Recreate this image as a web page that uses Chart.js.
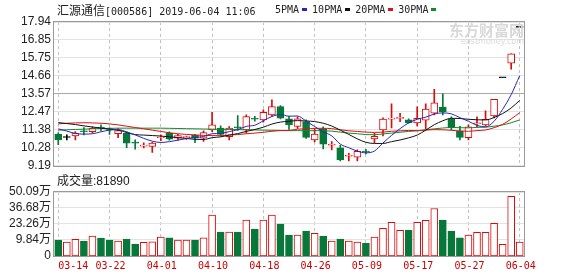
<!DOCTYPE html>
<html>
<head>
<meta charset="utf-8">
<script src="https://cdn.jsdelivr.net/npm/chart.js@4.4.1/dist/chart.umd.min.js"></script>
<style>
body { margin: 0; background: #fff; }
#wrap { position: relative; width: 578px; height: 276px; overflow: hidden; }
canvas { position: absolute; left: 0; }
.t { position: absolute; white-space: nowrap; color: #222; line-height: 12px; }
.cn { font-family: "Noto Sans CJK SC"; font-size: 12px; }
.mono { font-family: "DejaVu Sans Mono"; font-size: 10px; }
.chip { display: inline-block; width: 5px; height: 3px; margin: 0 5px 1px 3px; vertical-align: middle; }
.wm { position: absolute; right: 54px; color: #d9d9d9; white-space: nowrap; text-align: right; }
</style>
</head>
<body>
<div id="wrap">
  <canvas id="price" width="578" height="176" style="top:0"></canvas>
  <canvas id="volume" width="578" height="100" style="top:176px"></canvas>
  <div class="t" style="left:57px;top:4px"><span class="cn">汇源通信</span><span class="mono">[000586] 2019-06-04 11:06</span></div>
  <div class="t mono" id="legend" style="left:275px;top:4px"></div>
  <div class="wm" style="top:22px;font-family:'Noto Sans CJK SC';font-weight:bold;font-size:15px;line-height:16px">东方财富网</div>
  <div class="wm" style="top:37px;font-family:'DejaVu Sans';font-size:8px;line-height:9px">eastmoney.com</div>
  <div class="t" style="left:57px;top:174px"><span class="cn">成交量</span><span style="font-family:'Liberation Sans';font-size:12px">:81890</span></div>
</div>
<script>
// trading days shown
const DATES = ['03-14','03-15','03-18','03-19','03-20','03-21','03-22','03-25','03-26','03-27',
  '03-28','03-29','04-01','04-02','04-03','04-04','04-08','04-09','04-10','04-11',
  '04-12','04-15','04-16','04-17','04-18','04-19','04-22','04-23','04-24','04-25',
  '04-26','04-29','04-30','05-06','05-07','05-08','05-09','05-10','05-13','05-14',
  '05-15','05-16','05-17','05-20','05-21','05-22','05-23','05-24','05-27','05-28',
  '05-29','05-30','05-31','06-03','06-04'];
const TICK_DATES = ['03-14','03-22','04-01','04-10','04-18','04-26','05-09','05-17','05-27','06-04'];

const OPEN = [11.12,10.91,11.01,11.30,11.27,11.50,11.43,11.15,11.18,10.60,
  10.39,10.37,10.88,11.18,10.87,10.90,11.05,10.87,11.38,11.48,
  10.97,11.55,11.38,12.05,11.98,12.29,12.79,12.05,11.59,11.88,
  10.77,11.44,10.44,10.28,9.77,9.71,10.06,10.83,11.38,12.03,
  12.08,11.99,11.80,11.96,12.39,12.77,12.03,11.30,10.90,11.75,
  11.68,12.23,14.55,15.43,17.61];
const HIGH = [11.20,11.07,11.27,11.52,11.56,11.68,11.50,11.45,11.25,10.77,
  10.59,10.62,11.07,11.25,11.10,11.00,11.10,11.32,12.45,11.62,
  11.58,12.25,12.29,12.20,12.60,13.20,12.85,12.20,12.17,11.98,
  11.45,11.56,10.67,10.44,9.95,10.16,10.19,11.17,12.11,12.96,
  12.39,12.05,12.78,12.96,13.84,13.57,12.17,11.59,11.68,12.17,
  12.53,13.23,14.55,16.01,17.61];
const LOW = [10.47,10.77,10.77,11.07,11.19,11.32,11.10,10.90,10.30,10.20,
  10.28,10.00,10.72,10.75,10.75,10.80,10.60,10.67,11.27,11.00,
  10.77,11.35,11.18,11.90,11.85,12.19,12.05,11.40,11.47,10.86,
  10.65,10.22,10.16,9.49,9.49,9.49,9.92,10.59,11.01,11.50,
  11.88,11.78,11.62,11.44,12.29,12.29,11.38,10.77,10.77,11.54,
  11.62,12.11,14.55,15.07,17.61];
const CLOSE = [10.77,10.91,11.18,11.26,11.47,11.48,11.40,11.33,10.57,10.57,
  10.42,10.57,10.91,10.81,11.03,10.93,10.87,11.21,11.68,11.10,
  11.48,11.50,12.19,12.02,12.45,12.79,12.09,11.70,12.05,10.92,
  11.12,10.50,10.47,9.55,9.80,10.07,10.03,10.98,12.03,12.07,
  12.12,11.82,12.08,12.64,13.02,12.49,11.51,10.92,11.56,11.78,
  12.02,13.23,14.55,16.01,17.61];

// moving averages
const MA5 = [11.44,11.30,11.16,11.12,11.14,11.26,11.36,11.39,11.25,11.07,
  10.86,10.69,10.61,10.66,10.75,10.85,10.91,10.97,11.14,11.16,
  11.27,11.39,11.59,11.66,11.93,12.19,12.31,12.21,12.22,11.91,
  11.58,11.26,11.01,10.51,10.29,10.08,9.98,10.09,10.58,11.04,
  11.45,11.80,12.02,12.15,12.34,12.41,12.35,12.12,11.90,11.65,
  11.56,11.90,12.63,13.52,14.68];
const MA10 = [11.82,11.76,11.70,11.62,11.55,11.48,11.42,11.36,11.22,11.09,
  11.06,11.03,11.00,10.95,10.91,10.85,10.80,10.79,10.90,10.95,
  11.06,11.15,11.28,11.40,11.54,11.73,11.85,11.90,11.94,11.92,
  11.88,11.78,11.61,11.36,11.10,10.83,10.62,10.55,10.55,10.66,
  10.76,10.89,11.06,11.36,11.69,11.93,12.08,12.07,12.02,11.99,
  11.98,12.13,12.37,12.71,13.17];
const MA20 = [11.74,11.78,11.80,11.81,11.80,11.78,11.74,11.68,11.60,11.52,
  11.44,11.36,11.28,11.20,11.14,11.10,11.07,11.04,11.03,11.02,
  11.06,11.09,11.14,11.18,11.23,11.29,11.33,11.34,11.42,11.44,
  11.47,11.47,11.45,11.38,11.32,11.28,11.24,11.22,11.24,11.29,
  11.32,11.34,11.33,11.36,11.39,11.38,11.35,11.31,11.29,11.33,
  11.37,11.51,11.71,12.04,12.43];
const MA30 = [11.36,11.38,11.40,11.42,11.44,11.46,11.47,11.48,11.48,11.48,
  11.48,11.48,11.48,11.47,11.46,11.45,11.44,11.43,11.42,11.41,
  11.40,11.39,11.38,11.37,11.36,11.35,11.34,11.33,11.33,11.32,
  11.33,11.32,11.30,11.24,11.18,11.14,11.09,11.08,11.13,11.18,
  11.23,11.28,11.32,11.38,11.44,11.49,11.52,11.51,11.50,11.53,
  11.54,11.60,11.68,11.81,11.98];

// volume in 万 shares
const VOLUME = [9.79,8.12,10.40,8.96,13.13,11.46,9.79,8.96,10.63,6.45,
  7.87,8.37,12.29,11.71,9.79,9.79,9.79,11.71,30.65,16.47,
  16.47,16.47,26.48,18.97,26.48,30.65,23.14,13.96,13.96,17.30,
  15.38,13.13,8.96,10.63,8.96,8.12,7.04,12.29,19.55,24.56,
  17.88,17.88,24.56,26.23,36.24,26.48,17.30,11.71,13.96,16.21,
  16.21,23.72,6.20,46.50,8.19];

const PRICE_TICKS = [9.19,10.28,11.38,12.47,13.57,14.66,15.75,16.85,17.94];
const MID_PRICE = 13.57;
const VOL_TICKS = [-3.58,9.84,23.26,36.68,50.09];
const VOL_TICK_LABELS = ['0','9.84万','23.26万','36.68万','50.09万'];

const MA_NAMES = ['5PMA','10PMA','20PMA','30PMA'];
const MA_COLORS = ['#2626b8','#111111','#dd1111','#138a2a'];

const RED = '#dd0a0a';
const GREEN = '#08773a';

document.getElementById('legend').innerHTML = MA_NAMES.map((n, i) =>
  `${n}<span class="chip" style="background:${MA_COLORS[i]}"></span>`).join('');

function lineColor(i) {
  if (CLOSE[i] > OPEN[i]) return RED;
  if (CLOSE[i] < OPEN[i]) return GREEN;
  return '#000';
}
function bodyFill(i) {
  if (CLOSE[i] > OPEN[i]) return '#fff';
  if (CLOSE[i] < OPEN[i]) return GREEN;
  return '#000';
}

// draws the grey frame round the plot area
const frame = {
  id: 'frame',
  afterDraw(chart) {
    const a = chart.chartArea, ctx = chart.ctx;
    ctx.save();
    ctx.strokeStyle = '#9a9a9a';
    ctx.lineWidth = 1;
    ctx.strokeRect(Math.round(a.left) - 0.5, Math.round(a.top) - 0.5,
      Math.round(a.right - a.left) + 1, Math.round(a.bottom - a.top) + 1);
    ctx.restore();
  }
};

// date labels under the volume panel, first one kept inside the frame
const dateLabels = {
  id: 'dateLabels',
  afterDraw(chart) {
    const xs = chart.scales.x, ctx = chart.ctx;
    ctx.save();
    ctx.font = '10px "DejaVu Sans Mono"';
    ctx.fillStyle = '#cc0000';
    ctx.textBaseline = 'middle';
    DATES.forEach((d, i) => {
      if (!TICK_DATES.includes(d)) return;
      ctx.textAlign = i === 0 ? 'left' : 'center';
      ctx.fillText(d, xs.getPixelForValue(i) + (i === 0 ? 0 : 1), chart.chartArea.bottom + 10);
    });
    ctx.restore();
  }
};

function xAxis() {
  return {
    offset: true,
    ticks: { display: false, autoSkip: false },
    grid: {
      offset: false,
      drawTicks: false,
      color: ctx => TICK_DATES.includes(DATES[ctx.index]) ? '#c2c2c2' : 'rgba(0,0,0,0)'
    },
    border: { display: false, dash: [3, 3] },
    afterFit: s => { s.height = 0; }
  };
}

const maSets = [MA5, MA10, MA20, MA30].map((d, i) => ({
  type: 'line', label: MA_NAMES[i], data: d,
  borderColor: MA_COLORS[i], borderWidth: 1, pointRadius: 0,
  cubicInterpolationMode: 'monotone', order: 0
}));

new Chart(document.getElementById('price'), {
  type: 'bar',
  data: {
    labels: DATES,
    datasets: [
      ...maSets,
      {
        label: 'body',
        data: DATES.map((d, i) => [Math.min(OPEN[i], CLOSE[i]), Math.max(OPEN[i], CLOSE[i])]),
        backgroundColor: DATES.map((d, i) => bodyFill(i)),
        borderColor: DATES.map((d, i) => lineColor(i)),
        borderWidth: 1, borderSkipped: false,
        barThickness: 7, minBarLength: 1, grouped: false, order: 1
      },
      {
        label: 'wick',
        data: DATES.map((d, i) => [LOW[i], HIGH[i]]),
        backgroundColor: DATES.map((d, i) => lineColor(i)),
        barThickness: 1, grouped: false, order: 2
      }
    ]
  },
  options: {
    responsive: false,
    animation: false,
    layout: { padding: { left: 0, right: 54, top: 22, bottom: 10 } },
    plugins: { legend: { display: false }, tooltip: { enabled: false } },
    scales: {
      x: xAxis(),
      y: {
        min: 9.19, max: 17.94,
        afterBuildTicks: s => { s.ticks = PRICE_TICKS.map(v => ({ value: v })); },
        afterFit: s => { s.width = 54; },
        ticks: {
          padding: 3, color: '#222', autoSkip: false,
          font: { family: 'Liberation Sans', size: 12 },
          callback: v => v.toFixed(2)
        },
        grid: {
          drawTicks: false,
          color: ctx => ctx.tick && ctx.tick.value === MID_PRICE ? '#a8a8a8' : '#e2e2e2'
        },
        border: { display: false }
      }
    }
  },
  plugins: [frame]
});

const VOL_FLOOR = VOL_TICKS[0];

new Chart(document.getElementById('volume'), {
  type: 'bar',
  data: {
    labels: DATES,
    datasets: [{
      label: '成交量',
      data: VOLUME.map(v => [VOL_FLOOR, v]),
      backgroundColor: DATES.map((d, i) => CLOSE[i] >= OPEN[i] ? '#fff' : GREEN),
      borderColor: DATES.map((d, i) => CLOSE[i] >= OPEN[i] ? RED : GREEN),
      borderWidth: 1, borderSkipped: false, barThickness: 7
    }]
  },
  options: {
    responsive: false,
    animation: false,
    layout: { padding: { left: 0, right: 54, top: 16, bottom: 20 } },
    plugins: { legend: { display: false }, tooltip: { enabled: false } },
    scales: {
      x: xAxis(),
      y: {
        min: VOL_FLOOR, max: 50.09,
        afterBuildTicks: s => { s.ticks = VOL_TICKS.map(v => ({ value: v })); },
        afterFit: s => { s.width = 54; },
        ticks: {
          padding: 3, color: '#222', autoSkip: false,
          font: { family: "'Liberation Sans', 'Noto Sans CJK SC'", size: 12 },
          callback: v => VOL_TICK_LABELS[VOL_TICKS.indexOf(v)]
        },
        grid: { drawTicks: false, color: '#e2e2e2' },
        border: { display: false }
      }
    }
  },
  plugins: [frame, dateLabels]
});
</script>
</body>
</html>
